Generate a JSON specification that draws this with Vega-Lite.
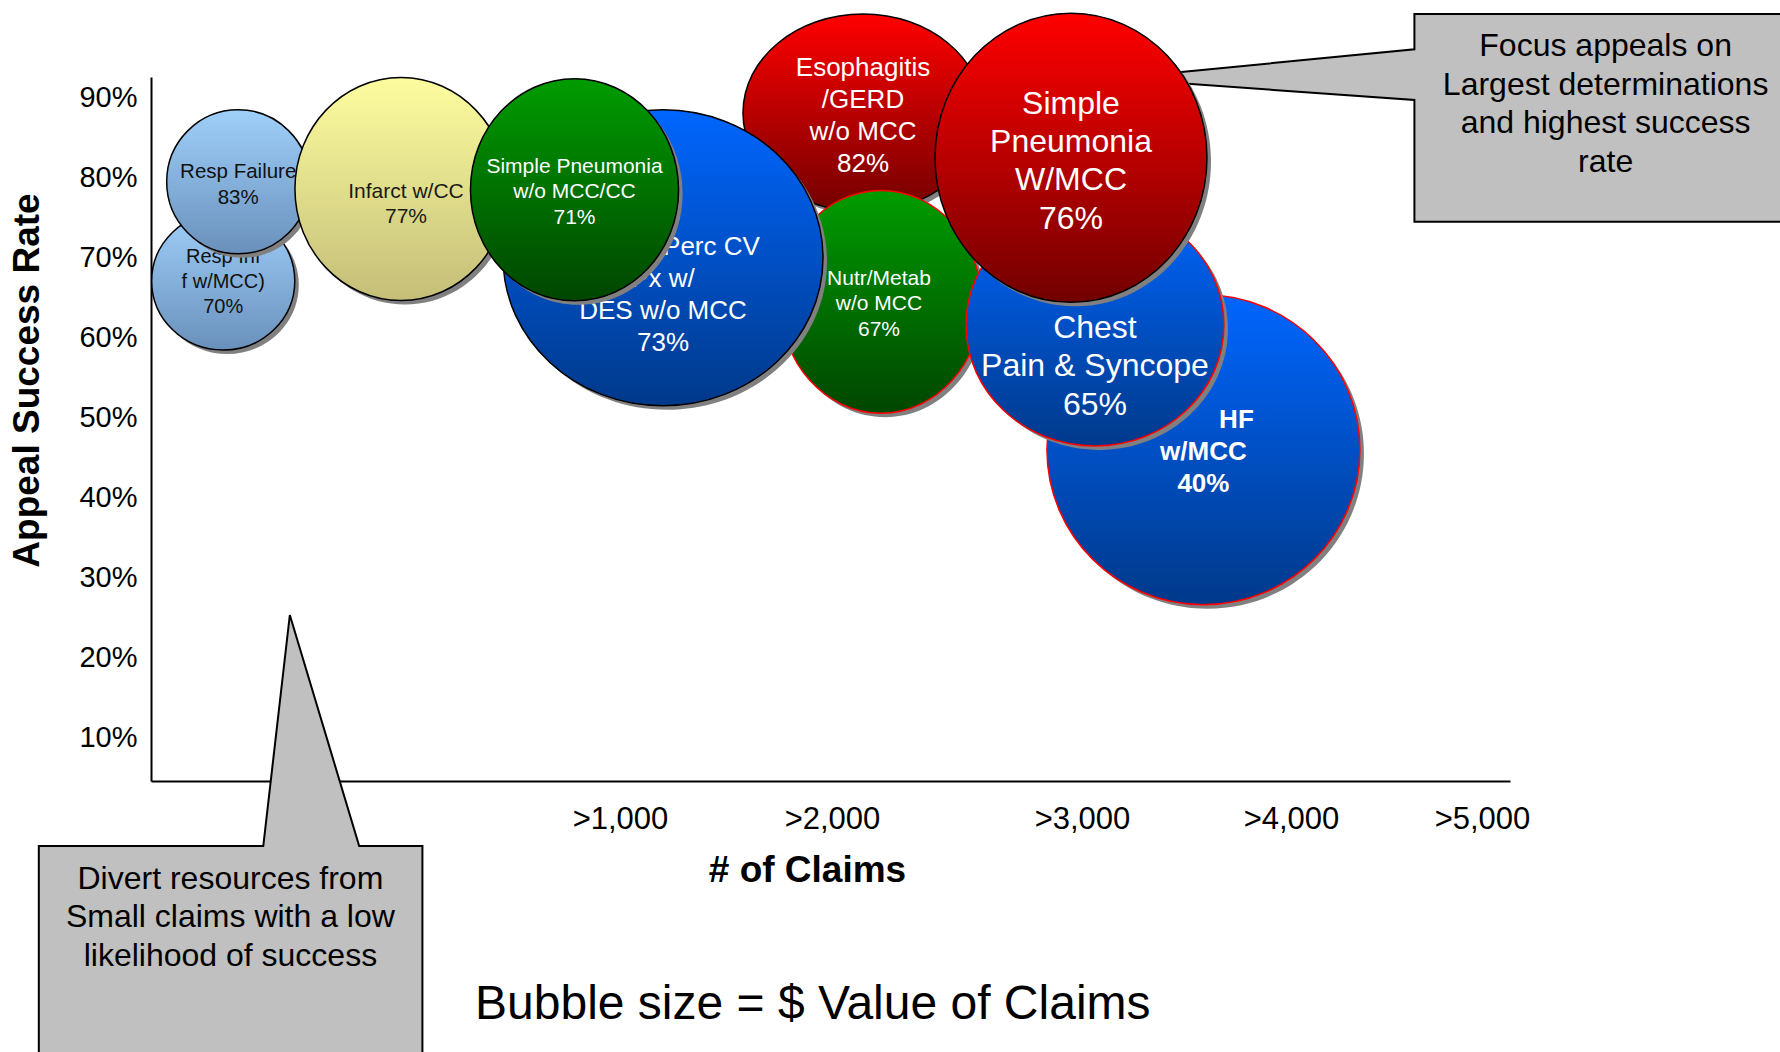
{
  "$schema": "https://vega.github.io/schema/vega-lite/v6.json",
  "width": 1359,
  "height": 704,
  "autosize": "none",
  "padding": {"left": 151, "top": 77, "right": 270, "bottom": 271},
  "background": "white",
  "config": {"view": {"stroke": null}, "font": "Liberation Sans"},
  "datasets": {
    "callouts": [
      {"callout": "divert", "i": 0, "claims": -239.2, "pct": -30.3},
      {"callout": "divert", "i": 1, "claims": -239.2, "pct": -3.525},
      {"callout": "divert", "i": 2, "claims": 239.4, "pct": -3.525},
      {"callout": "divert", "i": 3, "claims": 296.0, "pct": 25.35},
      {"callout": "divert", "i": 4, "claims": 443.9, "pct": -3.525},
      {"callout": "divert", "i": 5, "claims": 578.7, "pct": -3.525},
      {"callout": "divert", "i": 6, "claims": 578.7, "pct": -30.3},
      {"callout": "focus", "i": 0, "claims": 6612.6, "pct": 100.475},
      {"callout": "focus", "i": 1, "claims": 4646.1, "pct": 100.475},
      {"callout": "focus", "i": 2, "claims": 4646.1, "pct": 96.06},
      {"callout": "focus", "i": 3, "claims": 3153.1, "pct": 92.41},
      {"callout": "focus", "i": 4, "claims": 4646.1, "pct": 89.725},
      {"callout": "focus", "i": 5, "claims": 4646.1, "pct": 74.51},
      {"callout": "focus", "i": 6, "claims": 6612.6, "pct": 74.51}
    ],
    "notes": [
      {"note": "focus", "claims": 5649, "pct": 89.39, "label": ["Focus appeals on", "Largest determinations", "and highest success", "rate"]},
      {"note": "divert", "claims": 169.3, "pct": -12.275, "label": ["Divert resources from", "Small claims with a low", "likelihood of success"]},
      {"note": "bubble", "claims": 1909.4, "pct": -22.875, "label": "Bubble size = $ Value of Claims"}
    ],
    "bubbles": [
      {"key": "resp70", "claims": 154, "pct": 67.1, "value": 209, "label": ["Resp Inf", "f w/MCC)", "70%"]},
      {"key": "respfail", "claims": 186, "pct": 79.5, "value": 209, "label": ["Resp Failure", "83%"]},
      {"key": "infarct", "claims": 533, "pct": 78.6, "value": 459, "label": ["Infarct w/CC", "77%"]},
      {"key": "hf", "claims": 3581, "pct": 46.0, "value": 1000, "head": "HF", "label": ["w/MCC", "40%"]},
      {"key": "esoph", "claims": 2124, "pct": 88.1, "value": 588, "label": ["Esophagitis", "/GERD", "w/o MCC", "82%"]},
      {"key": "nutr", "claims": 2196, "pct": 64.5, "value": 412, "label": ["Nutr/Metab", "w/o MCC", "67%"]},
      {"key": "chest", "claims": 3062, "pct": 61.6, "value": 679, "label": ["Chest", "Pain & Syncope", "65%"]},
      {"key": "perccv", "claims": 1203, "pct": 70.0, "value": 1045, "label": ["Cardiac Perc CV", "Px w/", "DES w/o MCC", "73%"]},
      {"key": "spwo", "claims": 903, "pct": 78.5, "value": 442, "label": ["Simple Pneumonia", "w/o MCC/CC", "71%"]},
      {"key": "spwmcc", "claims": 2956, "pct": 82.5, "value": 755, "label": ["Simple", "Pneumonia", "W/MCC", "76%"]}
    ]
  },
  "data": {"name": "bubbles"},
  "encoding": {
    "x": {
      "field": "claims", "type": "quantitative",
      "scale": {"domain": [0, 1000, 2000, 3000, 4000, 5000, 5147], "range": [0, 469, 681, 931, 1140, 1331, 1359], "nice": false, "zero": false},
      "axis": {
        "values": [1000, 2000, 3000, 4000, 5000],
        "labelExpr": "'>' + format(datum.value, ',')",
        "title": "# of Claims", "grid": false, "ticks": false, "tickSize": 0,
        "labelFont": "Liberation Sans", "labelFontSize": 31, "labelColor": "black", "labelPadding": 23,
        "labelFlush": false, "labelOverlap": false, "labelBound": false,
        "domainColor": "black", "domainWidth": 2,
        "titleFont": "Liberation Sans", "titleFontSize": 37, "titleFontWeight": "bold", "titleColor": "black",
        "titleX": 656, "titleY": 100, "titleBaseline": "alphabetic", "titleAlign": "center"
      }
    },
    "y": {
      "field": "pct", "type": "quantitative",
      "scale": {"domain": [4.6, 92.6], "nice": false, "zero": false},
      "axis": {
        "values": [10, 20, 30, 40, 50, 60, 70, 80, 90],
        "labelExpr": "datum.value + '%'",
        "title": "Appeal Success Rate", "grid": false, "ticks": false, "tickSize": 0,
        "labelFont": "Liberation Sans", "labelFontSize": 29, "labelColor": "black", "labelPadding": 14,
        "labelFlush": false, "labelOverlap": false, "labelBound": false,
        "domainColor": "black", "domainWidth": 2,
        "titleFont": "Liberation Sans", "titleFontSize": 37, "titleFontWeight": "bold", "titleColor": "black",
        "titleX": -113, "titleY": 303, "titleBaseline": "alphabetic", "titleAlign": "center", "titleAngle": -90
      }
    }
  },
  "layer": [
    {
      "data": {"name": "callouts"},
      "mark": {"type": "line", "fill": "#c0c0c0", "stroke": "black", "strokeWidth": 2, "interpolate": "linear"},
      "encoding": {"detail": {"field": "callout"}, "order": {"field": "i", "type": "quantitative"}}
    },
    {
      "data": {"name": "notes"},
      "transform": [{"filter": "datum.note === 'focus'"}],
      "mark": {"type": "text", "font": "Liberation Sans", "fontSize": 32, "lineHeight": 38.5, "fill": "black", "align": "center", "baseline": "middle", "dy": -56.5},
      "encoding": {"text": {"field": "label"}}
    },
    {
      "data": {"name": "notes"},
      "transform": [{"filter": "datum.note === 'divert'"}],
      "mark": {"type": "text", "font": "Liberation Sans", "fontSize": 32, "lineHeight": 38.5, "fill": "black", "align": "center", "baseline": "middle", "dy": -37.5},
      "encoding": {"text": {"field": "label"}}
    },
    {
      "data": {"name": "notes"},
      "transform": [{"filter": "datum.note === 'bubble'"}],
      "mark": {"type": "text", "font": "Liberation Sans", "fontSize": 48, "fill": "black", "align": "center", "baseline": "middle", "dy": 4},
      "encoding": {"text": {"field": "label"}}
    },

    {"transform": [{"filter": "datum.key === 'resp70'"}],
     "mark": {"type": "point", "shape": "M -1 0 C -1 -0.533 -0.5523 -0.965 0 -0.965 C 0.5523 -0.965 1 -0.533 1 0 C 1 0.533 0.5523 0.965 0 0.965 C -0.5523 0.965 -1 0.533 -1 0 Z", "filled": true, "fill": "#808080", "strokeWidth": 0, "opacity": 1, "xOffset": 4, "yOffset": 4},
     "encoding": {"size": {"field": "value", "type": "quantitative", "scale": {"domain": [0, 1000], "range": [0, 97969], "zero": true}, "legend": null}}},
    {"transform": [{"filter": "datum.key === 'resp70'"}],
     "mark": {"type": "point", "shape": "M -1 0 C -1 -0.533 -0.5523 -0.965 0 -0.965 C 0.5523 -0.965 1 -0.533 1 0 C 1 0.533 0.5523 0.965 0 0.965 C -0.5523 0.965 -1 0.533 -1 0 Z", "filled": true, "opacity": 1, "stroke": "black", "strokeWidth": 1.5,
       "fill": {"gradient": "linear", "x1": 0, "y1": 0, "x2": 0, "y2": 1, "stops": [{"offset": 0, "color": "#9fd0fa"}, {"offset": 1, "color": "#6990bb"}]}},
     "encoding": {"size": {"field": "value", "type": "quantitative", "scale": {"domain": [0, 1000], "range": [0, 97969], "zero": true}, "legend": null}}},
    {"transform": [{"filter": "datum.key === 'resp70'"}],
     "mark": {"type": "text", "font": "Liberation Sans", "fontSize": 20, "lineHeight": 25, "fill": "#111111", "align": "center", "baseline": "middle", "dy": -24},
     "encoding": {"text": {"field": "label"}}},

    {"transform": [{"filter": "datum.key === 'respfail'"}],
     "mark": {"type": "point", "shape": "M -1 0 C -1 -0.556 -0.5523 -1.007 0 -1.007 C 0.5523 -1.007 1 -0.556 1 0 C 1 0.556 0.5523 1.007 0 1.007 C -0.5523 1.007 -1 0.556 -1 0 Z", "filled": true, "fill": "#808080", "strokeWidth": 0, "opacity": 1, "xOffset": 4, "yOffset": 4},
     "encoding": {"size": {"field": "value", "type": "quantitative", "scale": {"domain": [0, 1000], "range": [0, 97969], "zero": true}, "legend": null}}},
    {"transform": [{"filter": "datum.key === 'respfail'"}],
     "mark": {"type": "point", "shape": "M -1 0 C -1 -0.556 -0.5523 -1.007 0 -1.007 C 0.5523 -1.007 1 -0.556 1 0 C 1 0.556 0.5523 1.007 0 1.007 C -0.5523 1.007 -1 0.556 -1 0 Z", "filled": true, "opacity": 1, "stroke": "black", "strokeWidth": 1.5,
       "fill": {"gradient": "linear", "x1": 0, "y1": 0, "x2": 0, "y2": 1, "stops": [{"offset": 0, "color": "#9fd0fa"}, {"offset": 1, "color": "#6990bb"}]}},
     "encoding": {"size": {"field": "value", "type": "quantitative", "scale": {"domain": [0, 1000], "range": [0, 97969], "zero": true}, "legend": null}}},
    {"transform": [{"filter": "datum.key === 'respfail'"}],
     "mark": {"type": "text", "font": "Liberation Sans", "fontSize": 20.5, "lineHeight": 26, "fill": "#111111", "align": "center", "baseline": "middle", "dy": -10},
     "encoding": {"text": {"field": "label"}}},

    {"transform": [{"filter": "datum.key === 'infarct'"}],
     "mark": {"type": "point", "shape": "M -1 0 C -1 -0.581 -0.5523 -1.052 0 -1.052 C 0.5523 -1.052 1 -0.581 1 0 C 1 0.581 0.5523 1.052 0 1.052 C -0.5523 1.052 -1 0.581 -1 0 Z", "filled": true, "fill": "#808080", "strokeWidth": 0, "opacity": 1, "xOffset": 4, "yOffset": 4},
     "encoding": {"size": {"field": "value", "type": "quantitative", "scale": {"domain": [0, 1000], "range": [0, 97969], "zero": true}, "legend": null}}},
    {"transform": [{"filter": "datum.key === 'infarct'"}],
     "mark": {"type": "point", "shape": "M -1 0 C -1 -0.581 -0.5523 -1.052 0 -1.052 C 0.5523 -1.052 1 -0.581 1 0 C 1 0.581 0.5523 1.052 0 1.052 C -0.5523 1.052 -1 0.581 -1 0 Z", "filled": true, "opacity": 1, "stroke": "black", "strokeWidth": 1.5,
       "fill": {"gradient": "linear", "x1": 0, "y1": 0, "x2": 0, "y2": 1, "stops": [{"offset": 0, "color": "#fdfd9f"}, {"offset": 1, "color": "#c4be78"}]}},
     "encoding": {"size": {"field": "value", "type": "quantitative", "scale": {"domain": [0, 1000], "range": [0, 97969], "zero": true}, "legend": null}}},
    {"transform": [{"filter": "datum.key === 'infarct'"}],
     "mark": {"type": "text", "font": "Liberation Sans", "fontSize": 21, "lineHeight": 25.5, "fill": "#1a1a1a", "align": "center", "baseline": "middle", "dx": 5, "dy": 2.5},
     "encoding": {"text": {"field": "label"}}},

    {"transform": [{"filter": "datum.key === 'hf'"}],
     "mark": {"type": "point", "shape": "M -1 0 C -1 -0.547 -0.5523 -0.99 0 -0.99 C 0.5523 -0.99 1 -0.547 1 0 C 1 0.547 0.5523 0.99 0 0.99 C -0.5523 0.99 -1 0.547 -1 0 Z", "filled": true, "fill": "#808080", "strokeWidth": 0, "opacity": 1, "xOffset": 4, "yOffset": 4},
     "encoding": {"size": {"field": "value", "type": "quantitative", "scale": {"domain": [0, 1000], "range": [0, 97969], "zero": true}, "legend": null}}},
    {"transform": [{"filter": "datum.key === 'hf'"}],
     "mark": {"type": "point", "shape": "M -1 0 C -1 -0.547 -0.5523 -0.99 0 -0.99 C 0.5523 -0.99 1 -0.547 1 0 C 1 0.547 0.5523 0.99 0 0.99 C -0.5523 0.99 -1 0.547 -1 0 Z", "filled": true, "opacity": 1, "stroke": "#ff0000", "strokeWidth": 1.5,
       "fill": {"gradient": "linear", "x1": 0, "y1": 0, "x2": 0, "y2": 1, "stops": [{"offset": 0, "color": "#0066ff"}, {"offset": 1, "color": "#00398a"}]}},
     "encoding": {"size": {"field": "value", "type": "quantitative", "scale": {"domain": [0, 1000], "range": [0, 97969], "zero": true}, "legend": null}}},
    {"transform": [{"filter": "datum.key === 'hf'"}],
     "mark": {"type": "text", "font": "Liberation Sans", "fontSize": 26, "fontWeight": "bold", "fill": "white", "align": "center", "baseline": "middle", "dx": 33, "dy": -30},
     "encoding": {"text": {"field": "head"}}},
    {"transform": [{"filter": "datum.key === 'hf'"}],
     "mark": {"type": "text", "font": "Liberation Sans", "fontSize": 26, "fontWeight": "bold", "lineHeight": 32, "fill": "white", "align": "center", "baseline": "middle", "dy": 2},
     "encoding": {"text": {"field": "label"}}},

    {"transform": [{"filter": "datum.key === 'esoph'"}],
     "mark": {"type": "point", "shape": "M -1 0 C -1 -0.456 -0.5523 -0.825 0 -0.825 C 0.5523 -0.825 1 -0.456 1 0 C 1 0.456 0.5523 0.825 0 0.825 C -0.5523 0.825 -1 0.456 -1 0 Z", "filled": true, "fill": "#808080", "strokeWidth": 0, "opacity": 1, "xOffset": 4, "yOffset": 4},
     "encoding": {"size": {"field": "value", "type": "quantitative", "scale": {"domain": [0, 1000], "range": [0, 97969], "zero": true}, "legend": null}}},
    {"transform": [{"filter": "datum.key === 'esoph'"}],
     "mark": {"type": "point", "shape": "M -1 0 C -1 -0.456 -0.5523 -0.825 0 -0.825 C 0.5523 -0.825 1 -0.456 1 0 C 1 0.456 0.5523 0.825 0 0.825 C -0.5523 0.825 -1 0.456 -1 0 Z", "filled": true, "opacity": 1, "stroke": "black", "strokeWidth": 1.5,
       "fill": {"gradient": "linear", "x1": 0, "y1": 0, "x2": 0, "y2": 1, "stops": [{"offset": 0, "color": "#ff0000"}, {"offset": 1, "color": "#720000"}]}},
     "encoding": {"size": {"field": "value", "type": "quantitative", "scale": {"domain": [0, 1000], "range": [0, 97969], "zero": true}, "legend": null}}},
    {"transform": [{"filter": "datum.key === 'esoph'"}],
     "mark": {"type": "text", "font": "Liberation Sans", "fontSize": 26, "lineHeight": 32, "fill": "white", "align": "center", "baseline": "middle", "dy": -45},
     "encoding": {"text": {"field": "label"}}},

    {"transform": [{"filter": "datum.key === 'nutr'"}],
     "mark": {"type": "point", "shape": "M -1 0 C -1 -0.613 -0.5523 -1.109 0 -1.109 C 0.5523 -1.109 1 -0.613 1 0 C 1 0.613 0.5523 1.109 0 1.109 C -0.5523 1.109 -1 0.613 -1 0 Z", "filled": true, "fill": "#808080", "strokeWidth": 0, "opacity": 1, "xOffset": 4, "yOffset": 4},
     "encoding": {"size": {"field": "value", "type": "quantitative", "scale": {"domain": [0, 1000], "range": [0, 97969], "zero": true}, "legend": null}}},
    {"transform": [{"filter": "datum.key === 'nutr'"}],
     "mark": {"type": "point", "shape": "M -1 0 C -1 -0.613 -0.5523 -1.109 0 -1.109 C 0.5523 -1.109 1 -0.613 1 0 C 1 0.613 0.5523 1.109 0 1.109 C -0.5523 1.109 -1 0.613 -1 0 Z", "filled": true, "opacity": 1, "stroke": "#ff0000", "strokeWidth": 1.5,
       "fill": {"gradient": "linear", "x1": 0, "y1": 0, "x2": 0, "y2": 1, "stops": [{"offset": 0, "color": "#009c00"}, {"offset": 1, "color": "#004600"}]}},
     "encoding": {"size": {"field": "value", "type": "quantitative", "scale": {"domain": [0, 1000], "range": [0, 97969], "zero": true}, "legend": null}}},
    {"transform": [{"filter": "datum.key === 'nutr'"}],
     "mark": {"type": "text", "font": "Liberation Sans", "fontSize": 21, "lineHeight": 25.5, "fill": "white", "align": "center", "baseline": "middle", "dx": -2, "dy": -23},
     "encoding": {"text": {"field": "label"}}},

    {"transform": [{"filter": "datum.key === 'chest'"}],
     "mark": {"type": "point", "shape": "M -1 0 C -1 -0.518 -0.5523 -0.938 0 -0.938 C 0.5523 -0.938 1 -0.518 1 0 C 1 0.518 0.5523 0.938 0 0.938 C -0.5523 0.938 -1 0.518 -1 0 Z", "filled": true, "fill": "#808080", "strokeWidth": 0, "opacity": 1, "xOffset": 4, "yOffset": 4},
     "encoding": {"size": {"field": "value", "type": "quantitative", "scale": {"domain": [0, 1000], "range": [0, 97969], "zero": true}, "legend": null}}},
    {"transform": [{"filter": "datum.key === 'chest'"}],
     "mark": {"type": "point", "shape": "M -1 0 C -1 -0.518 -0.5523 -0.938 0 -0.938 C 0.5523 -0.938 1 -0.518 1 0 C 1 0.518 0.5523 0.938 0 0.938 C -0.5523 0.938 -1 0.518 -1 0 Z", "filled": true, "opacity": 1, "stroke": "#ff0000", "strokeWidth": 1.5,
       "fill": {"gradient": "linear", "x1": 0, "y1": 0, "x2": 0, "y2": 1, "stops": [{"offset": 0, "color": "#0066ff"}, {"offset": 1, "color": "#00398a"}]}},
     "encoding": {"size": {"field": "value", "type": "quantitative", "scale": {"domain": [0, 1000], "range": [0, 97969], "zero": true}, "legend": null}}},
    {"transform": [{"filter": "datum.key === 'chest'"}],
     "mark": {"type": "text", "font": "Liberation Sans", "fontSize": 32, "lineHeight": 38.5, "fill": "white", "align": "center", "baseline": "middle", "dy": 2.5},
     "encoding": {"text": {"field": "label"}}},

    {"transform": [{"filter": "datum.key === 'perccv'"}],
     "mark": {"type": "point", "shape": "M -1 0 C -1 -0.511 -0.5523 -0.925 0 -0.925 C 0.5523 -0.925 1 -0.511 1 0 C 1 0.511 0.5523 0.925 0 0.925 C -0.5523 0.925 -1 0.511 -1 0 Z", "filled": true, "fill": "#808080", "strokeWidth": 0, "opacity": 1, "xOffset": 4, "yOffset": 4},
     "encoding": {"size": {"field": "value", "type": "quantitative", "scale": {"domain": [0, 1000], "range": [0, 97969], "zero": true}, "legend": null}}},
    {"transform": [{"filter": "datum.key === 'perccv'"}],
     "mark": {"type": "point", "shape": "M -1 0 C -1 -0.511 -0.5523 -0.925 0 -0.925 C 0.5523 -0.925 1 -0.511 1 0 C 1 0.511 0.5523 0.925 0 0.925 C -0.5523 0.925 -1 0.511 -1 0 Z", "filled": true, "opacity": 1, "stroke": "black", "strokeWidth": 1.5,
       "fill": {"gradient": "linear", "x1": 0, "y1": 0, "x2": 0, "y2": 1, "stops": [{"offset": 0, "color": "#0066ff"}, {"offset": 1, "color": "#00398a"}]}},
     "encoding": {"size": {"field": "value", "type": "quantitative", "scale": {"domain": [0, 1000], "range": [0, 97969], "zero": true}, "legend": null}}},
    {"transform": [{"filter": "datum.key === 'perccv'"}],
     "mark": {"type": "text", "font": "Liberation Sans", "fontSize": 26, "lineHeight": 32, "fill": "white", "align": "center", "baseline": "middle", "dy": -11},
     "encoding": {"text": {"field": "label"}}},

    {"transform": [{"filter": "datum.key === 'spwo'"}],
     "mark": {"type": "point", "shape": "M -1 0 C -1 -0.589 -0.5523 -1.067 0 -1.067 C 0.5523 -1.067 1 -0.589 1 0 C 1 0.589 0.5523 1.067 0 1.067 C -0.5523 1.067 -1 0.589 -1 0 Z", "filled": true, "fill": "#808080", "strokeWidth": 0, "opacity": 1, "xOffset": 4, "yOffset": 4},
     "encoding": {"size": {"field": "value", "type": "quantitative", "scale": {"domain": [0, 1000], "range": [0, 97969], "zero": true}, "legend": null}}},
    {"transform": [{"filter": "datum.key === 'spwo'"}],
     "mark": {"type": "point", "shape": "M -1 0 C -1 -0.589 -0.5523 -1.067 0 -1.067 C 0.5523 -1.067 1 -0.589 1 0 C 1 0.589 0.5523 1.067 0 1.067 C -0.5523 1.067 -1 0.589 -1 0 Z", "filled": true, "opacity": 1, "stroke": "black", "strokeWidth": 1.5,
       "fill": {"gradient": "linear", "x1": 0, "y1": 0, "x2": 0, "y2": 1, "stops": [{"offset": 0, "color": "#009c00"}, {"offset": 1, "color": "#004600"}]}},
     "encoding": {"size": {"field": "value", "type": "quantitative", "scale": {"domain": [0, 1000], "range": [0, 97969], "zero": true}, "legend": null}}},
    {"transform": [{"filter": "datum.key === 'spwo'"}],
     "mark": {"type": "text", "font": "Liberation Sans", "fontSize": 21, "lineHeight": 25.5, "fill": "white", "align": "center", "baseline": "middle", "dy": -23},
     "encoding": {"text": {"field": "label"}}},

    {"transform": [{"filter": "datum.key === 'spwmcc'"}],
     "mark": {"type": "point", "shape": "M -1 0 C -1 -0.587 -0.5523 -1.063 0 -1.063 C 0.5523 -1.063 1 -0.587 1 0 C 1 0.587 0.5523 1.063 0 1.063 C -0.5523 1.063 -1 0.587 -1 0 Z", "filled": true, "fill": "#808080", "strokeWidth": 0, "opacity": 1, "xOffset": 4, "yOffset": 4},
     "encoding": {"size": {"field": "value", "type": "quantitative", "scale": {"domain": [0, 1000], "range": [0, 97969], "zero": true}, "legend": null}}},
    {"transform": [{"filter": "datum.key === 'spwmcc'"}],
     "mark": {"type": "point", "shape": "M -1 0 C -1 -0.587 -0.5523 -1.063 0 -1.063 C 0.5523 -1.063 1 -0.587 1 0 C 1 0.587 0.5523 1.063 0 1.063 C -0.5523 1.063 -1 0.587 -1 0 Z", "filled": true, "opacity": 1, "stroke": "black", "strokeWidth": 1.5,
       "fill": {"gradient": "linear", "x1": 0, "y1": 0, "x2": 0, "y2": 1, "stops": [{"offset": 0, "color": "#ff0000"}, {"offset": 1, "color": "#720000"}]}},
     "encoding": {"size": {"field": "value", "type": "quantitative", "scale": {"domain": [0, 1000], "range": [0, 97969], "zero": true}, "legend": null}}},
    {"transform": [{"filter": "datum.key === 'spwmcc'"}],
     "mark": {"type": "text", "font": "Liberation Sans", "fontSize": 32, "lineHeight": 38.3, "fill": "white", "align": "center", "baseline": "middle", "dy": -54},
     "encoding": {"text": {"field": "label"}}}
  ]
}
